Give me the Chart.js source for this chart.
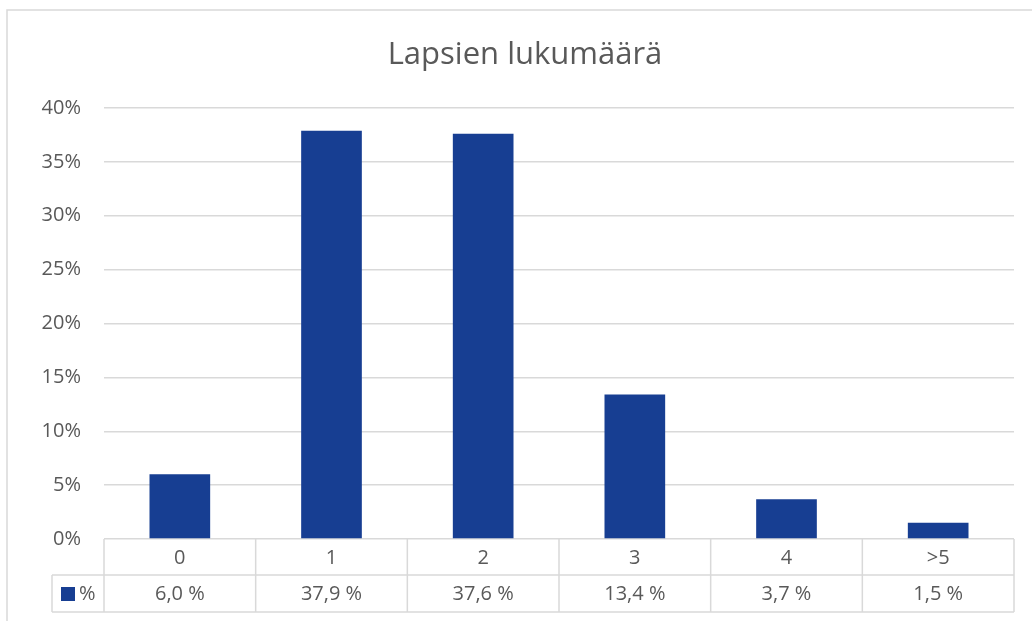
<!DOCTYPE html>
<html>
<head>
<meta charset="utf-8">
<script src="https://cdn.jsdelivr.net/npm/chart.js@4.4.1/dist/chart.umd.min.js"></script>
<style>
  html, body { margin: 0; padding: 0; background: #fff; }
  #wrap { width: 1032px; height: 621px; position: relative; }
</style>
</head>
<body>
<div id="wrap"><canvas id="lapsetChart"></canvas></div>
<script>
// data
const categories = ['0', '1', '2', '3', '4', '>5'];
const percents = [6.0, 37.9, 37.6, 13.4, 3.7, 1.5];
const yTicks = [0, 5, 10, 15, 20, 25, 30, 35, 40];
const seriesName = '%';
const chartTitle = 'Lapsien lukumäärä';

const barColor = '#173E92';
const textColor = '#595959';
const lineColor = '#D9D9D9';
const fontFamily = '"Open Sans", Lato, sans-serif';

// title + table under the plot (category row + values row), like an Excel data table
const dataTable = {
  id: 'dataTable',
  afterDraw(chart) {
    const { ctx, chartArea, scales } = chart;
    const x = scales.x;
    const top = chartArea.bottom;
    const row1 = top + 36;
    const row2 = row1 + 37;
    const legendLeft = 52;
    const step = x.getPixelForValue(1) - x.getPixelForValue(0);

    ctx.save();
    // title (Excel centres it on the whole chart frame)
    ctx.fillStyle = textColor;
    ctx.font = '31px ' + fontFamily;
    ctx.textAlign = 'center';
    ctx.textBaseline = 'middle';
    ctx.fillText(chartTitle, 525, 55);

    ctx.strokeStyle = lineColor;
    ctx.lineWidth = 1.5;
    ctx.beginPath();
    // horizontal lines
    ctx.moveTo(chartArea.left, row1); ctx.lineTo(chartArea.right, row1);
    ctx.moveTo(legendLeft, row1); ctx.lineTo(chartArea.left, row1);
    ctx.moveTo(legendLeft, row2); ctx.lineTo(chartArea.right, row2);
    // vertical lines
    ctx.moveTo(legendLeft, row1); ctx.lineTo(legendLeft, row2);
    for (let i = 0; i <= categories.length; i++) {
      const px = x.getPixelForValue(i) - step / 2;
      ctx.moveTo(px, top); ctx.lineTo(px, row2);
    }
    ctx.stroke();

    ctx.fillStyle = textColor;
    ctx.font = '20px ' + fontFamily;
    categories.forEach((c, i) => {
      const px = x.getPixelForValue(i);
      ctx.fillText(c, px, (top + row1) / 2 + 1);
      ctx.fillText(percents[i].toFixed(1).replace('.', ',') + ' %', px, (row1 + row2) / 2 + 1);
    });

    // legend key
    ctx.fillStyle = barColor;
    ctx.fillRect(61, row1 + 12, 14, 14);
    ctx.fillStyle = textColor;
    ctx.textAlign = 'left';
    ctx.fillText(seriesName, 79, (row1 + row2) / 2 + 1);

    // outer chart border
    ctx.strokeStyle = lineColor;
    ctx.lineWidth = 1.5;
    ctx.strokeRect(7, 10, 1200, 800);
    ctx.restore();
  }
};

const ctx = document.getElementById('lapsetChart');

new Chart(ctx, {
  type: 'bar',
  data: {
    labels: categories,
    datasets: [{
      label: seriesName,
      data: percents,
      backgroundColor: barColor,
      categoryPercentage: 1,
      barPercentage: 0.4
    }]
  },
  options: {
    responsive: true,
    maintainAspectRatio: false,
    animation: false,
    layout: {
      padding: { left: 0, right: 18, top: 108, bottom: 82 }
    },
    plugins: {
      legend: { display: false },
      tooltip: { enabled: false },
      title: { display: false }
    },
    scales: {
      x: {
        display: false
      },
      y: {
        min: 0,
        max: 40,
        afterFit(scale) { scale.width = 104; },
        afterBuildTicks(scale) { scale.ticks = yTicks.map(v => ({ value: v })); },
        border: { display: false },
        grid: { color: lineColor, lineWidth: 1.5, drawTicks: false },
        ticks: {
          color: textColor,
          padding: 23,
          font: { family: fontFamily, size: 20 },
          callback: (v) => v + '%'
        }
      }
    }
  },
  plugins: [dataTable]
});
</script>
</body>
</html>
